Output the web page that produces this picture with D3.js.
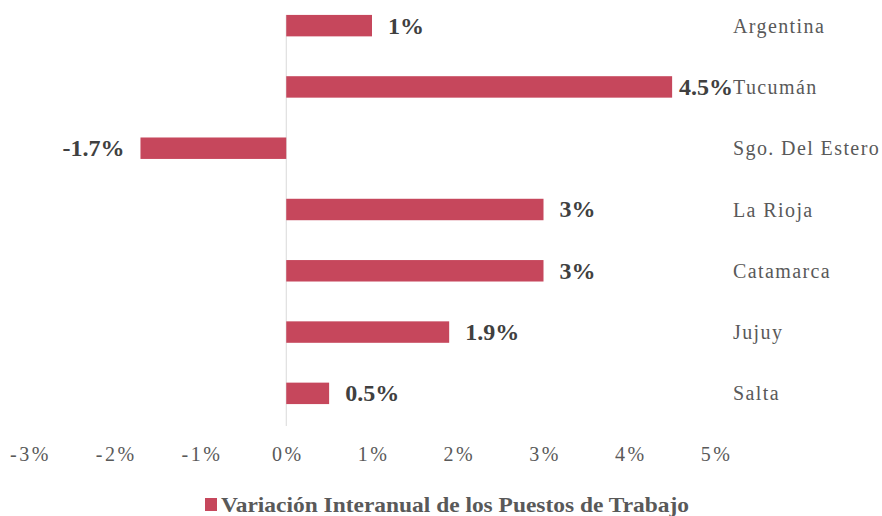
<!DOCTYPE html>
<html>
<head>
<meta charset="utf-8">
<script src="https://cdn.jsdelivr.net/npm/d3@7"></script>
<style>
  html, body { margin: 0; padding: 0; background: #ffffff; }
  svg { display: block; }
  svg text { font-family: "Times New Roman", Times, "Liberation Serif", "DejaVu Serif", "Noto Serif", serif; }
</style>
</head>
<body>
<svg id="chart" width="882" height="516"></svg>
<script>
const categories = ["Argentina", "Tucumán", "Sgo. Del Estero", "La Rioja", "Catamarca", "Jujuy", "Salta"];
const values = [1, 4.5, -1.7, 3, 3, 1.9, 0.5];
const valueLabels = ["1%", "4.5%", "-1.7%", "3%", "3%", "1.9%", "0.5%"];
const tickValues = [-3, -2, -1, 0, 1, 2, 3, 4, 5];
const tickLabels = ["-3%", "-2%", "-1%", "0%", "1%", "2%", "3%", "4%", "5%"];
const seriesName = "Variación Interanual de los Puestos de Trabajo";

const data = categories.map((c, i) => ({ cat: c, v: values[i], label: valueLabels[i] }));

const svg = d3.select("#chart");
const barColor = "#c6475c";

const x = d3.scaleLinear().domain([-3, 5]).range([29, 715]);
const y = d3.scaleBand().domain(categories).range([-5, 424]).paddingInner(0.65).paddingOuter(0.325);
const catX = 733;

// zero line
svg.append("line")
  .attr("x1", x(0)).attr("x2", x(0))
  .attr("y1", y(categories[0])).attr("y2", y.range()[1] + 2)
  .attr("stroke", "#d9d9d9").attr("stroke-width", 1);

// bars
svg.selectAll("rect.bar").data(data).join("rect")
  .attr("class", "bar")
  .attr("x", d => x(Math.min(0, d.v)))
  .attr("width", d => Math.abs(x(d.v) - x(0)))
  .attr("y", d => y(d.cat))
  .attr("height", y.bandwidth())
  .attr("fill", barColor);

// value labels
const vl = svg.selectAll("text.val").data(data).join("text")
  .attr("class", "val")
  .attr("y", d => y(d.cat) + y.bandwidth() / 2)
  .attr("dy", "0.33em")
  .attr("font-weight", "bold")
  .attr("font-size", 24)
  .attr("fill", "#404040")
  .attr("text-anchor", d => d.v < 0 ? "end" : "start")
  .text(d => d.label);
vl.each(function(d) {
  const w = this.getComputedTextLength();
  let px = d.v < 0 ? x(d.v) - 16 : x(d.v) + 16;
  if (d.v >= 0 && px + w > catX) px = catX - w;
  d3.select(this).attr("x", px);
});

// category labels
svg.selectAll("text.cat").data(data).join("text")
  .attr("class", "cat")
  .attr("x", catX)
  .attr("y", d => y(d.cat) + y.bandwidth() / 2)
  .attr("dy", "0.35em")
  .attr("font-size", 20)
  .attr("letter-spacing", 1.4)
  .attr("fill", "#595959")
  .text(d => d.cat);

// x axis tick labels
const axis = d3.axisBottom(x).tickValues(tickValues).tickSize(0)
  .tickFormat((d, i) => tickLabels[i]);
const ag = svg.append("g").attr("transform", "translate(0,444)").call(axis);
ag.select(".domain").remove();
ag.attr("font-family", null);
ag.selectAll("text")
  .attr("font-size", 20)
  .attr("letter-spacing", 2.5)
  .attr("fill", "#595959")
  .attr("dx", 1);

// legend
const lg = svg.append("g");
lg.append("rect").attr("x", 205).attr("y", 498).attr("width", 12).attr("height", 13).attr("fill", barColor);
lg.append("text")
  .attr("x", 221).attr("y", 512)
  .attr("font-weight", "bold")
  .attr("font-size", 21)
  .attr("fill", "#595959")
  .attr("textLength", 468)
  .attr("lengthAdjust", "spacingAndGlyphs")
  .text(seriesName);
</script>
</body>
</html>
